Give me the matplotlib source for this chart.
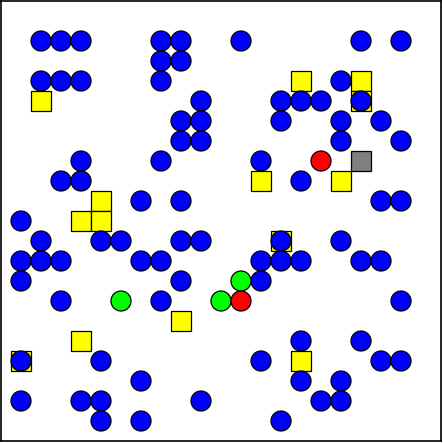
import matplotlib
matplotlib.use("Agg")
import matplotlib.pyplot as plt
from matplotlib.patches import Circle, Rectangle

# grid positions (column, row from top)
blue_cols = [2,3,4,8,9,12,18,20, 8,9, 2,3,4,8,17, 10,14,15,16,18, 9,10,14,17,19,
             9,10,17,20, 4,8,13, 3,4,15, 7,9,19,20, 1, 2,5,6,9,10,14,17,
             1,2,3,7,8,13,14,15,18,19, 1,9,13, 3,8,20, 15,18, 1,5,13,19,20,
             7,15,17, 1,4,5,10,16,17, 5,7,14]
blue_rows = [2]*8 + [3]*2 + [4]*5 + [5]*5 + [6]*5 + [7]*4 + [8]*3 + [9]*3 + [10]*4 + [11]*1 + \
            [12]*7 + [13]*10 + [14]*3 + [15]*3 + [17]*2 + [18]*5 + [19]*3 + [20]*6 + [21]*3

yellow_cols = [15,18,2,18,13,17,5,4,5,14,9,4,1,15]
yellow_rows = [4,4,5,5,9,9,10,11,11,12,16,17,18,18]

green_cols = [12,6,11]
green_rows = [14,15,15]

red_cols = [16,12]
red_rows = [8,15]

gray_cols = [18]
gray_rows = [8]

fig = plt.figure(figsize=(4.43, 4.43), dpi=100)
ax = fig.add_axes([1/443, 2/443, 440/443, 440/443])
ax.set_xlim(0, 22)
ax.set_ylim(22, 0)
ax.set_aspect('equal')
ax.set_xticks([])
ax.set_yticks([])
for s in ax.spines.values():
    s.set_linewidth(1.2)

def squares(cols, rows, color):
    for c, r in zip(cols, rows):
        ax.add_patch(Rectangle((c - 0.5, r - 0.5), 1, 1, facecolor=color,
                               edgecolor='black', linewidth=0.9))

def circles(cols, rows, color):
    for c, r in zip(cols, rows):
        ax.add_patch(Circle((c, r), 0.5, facecolor=color, edgecolor='black', linewidth=0.9))

squares(yellow_cols, yellow_rows, '#FFFF00')
squares(gray_cols, gray_rows, '#808080')
circles(blue_cols, blue_rows, '#0000FF')
circles(green_cols, green_rows, '#00FF00')
circles(red_cols, red_rows, '#FF0000')

fig.savefig("out.png", dpi=100)
